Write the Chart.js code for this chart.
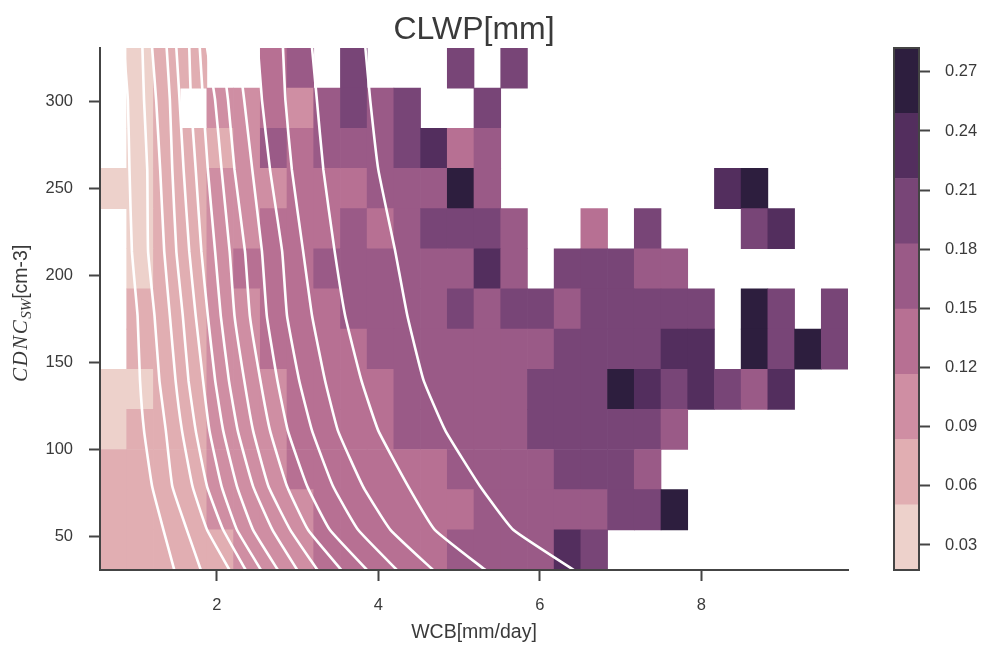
<!DOCTYPE html>
<html>
<head>
<meta charset="utf-8">
<title>CLWP[mm]</title>
<script src="https://cdn.jsdelivr.net/npm/chart.js@4"></script>
<style>
    body { margin: 0; background: #fff; }
    canvas { position: absolute; top: 0; }
    #myChart { left: 0; }
    #colorBar { left: 870px; }
</style>
</head>
<body>
<canvas id="myChart" width="984" height="645"></canvas>
<canvas id="colorBar" width="114" height="645"></canvas>
<script>
const _ = null;

// column centres of the WCB bins
const colCenters = [0.7204, 1.0511, 1.3818, 1.7125, 2.0432, 2.3739, 2.7046, 3.0353, 3.366, 3.6967, 4.0274, 4.3581, 4.6888, 5.0195,
    5.3502, 5.6809, 6.0116, 6.3423, 6.673, 7.0037, 7.3344, 7.6651, 7.9958, 8.3265, 8.6572, 8.9879, 9.3186, 9.6493];
// CDNC bin edges, bottom to top
const rowEdges = [30.9, 53.98, 77.06, 100.13, 123.21, 146.29, 169.37, 192.45, 215.52, 238.6, 261.68, 284.76, 307.83, 330.9];

// CLWP per bin, one list per CDNC row, bottom to top
const row0 = [.07, .07, .07, .07, .07, .10, .10, .10, .13, .13, .13, .13, .13, .17, .17, .17, .17, .23, .20, _, _, _, _, _, _, _, _, _];
const row1 = [.07, .07, .07, .07, .10, .10, .10, .10, .13, .13, .13, .13, .13, .13, .17, .17, .17, .17, .17, .20, .20, .27, _, _, _, _, _, _];
const row2 = [.07, .07, .07, .07, .10, .10, .10, .13, .13, .13, .13, .13, .13, .17, .17, .17, .17, .20, .20, .20, .17, _, _, _, _, _, _, _];
const row3 = [.03, .07, .07, .07, .10, .10, .10, .13, .13, .13, .13, .17, .17, .17, .17, .17, .20, .20, .20, .20, .20, .17, _, _, _, _, _, _];
const row4 = [.03, .03, .07, .07, .10, .10, .10, .13, .13, .13, .13, .17, .17, .17, .17, .17, .20, .20, .20, .27, .23, .20, .23, .20, .17, .23, _, _];
const row5 = [_, .07, .07, .07, .10, .10, .13, .13, .13, .13, .17, .17, .17, .17, .17, .17, .17, .20, .20, .20, .20, .23, .23, _, .27, .20, .27, .20];
const row6 = [_, .07, .07, .07, .10, .10, .13, .13, .13, .17, .17, .17, .17, .20, .17, .20, .20, .17, .20, .20, .20, .20, .20, _, .27, .20, _, .20];
const row7 = [_, .03, .07, .07, .10, .13, .13, .13, .17, .17, .17, .17, .17, .17, .23, .17, _, .20, .20, .20, .17, .17, _, _, _, _, _, _];
const row8 = [_, .03, .07, .07, .10, .10, .13, .13, .13, .17, .13, .17, .20, .20, .20, .17, _, _, .13, _, .20, _, _, _, .20, .23, _, _];
const row9 = [.03, .03, .07, .07, .10, .10, .10, .13, .13, .13, .17, .17, .17, .27, .17, _, _, _, _, _, _, _, _, .23, .27, _, _, _];
const row10 = [_, .03, .07, .07, .07, .10, .17, .13, .17, .17, .17, .20, .23, .13, .17, _, _, _, _, _, _, _, _, _, _, _, _, _];
const row11 = [_, .03, .07, _, .10, .10, .13, .10, .17, .20, .17, .20, _, _, .20, _, _, _, _, _, _, _, _, _, _, _, _, _];
const row12 = [_, .03, .07, .07, _, _, .13, .17, _, .20, _, _, _, .20, _, .20, _, _, _, _, _, _, _, _, _, _, _, _];
const rows = [row0, row1, row2, row3, row4, row5, row6, row7, row8, row9, row10, row11, row12];

// white contours: one x list per line, all read at the same CDNC values
const contourY = [331, 301, 261, 214, 177, 140, 111, 79, 54, 30];
const contour1 = [0.85, 0.90, 0.92, 0.95, 1.02, 1.05, 1.10, 1.20, 1.34, 1.48];
const contour2 = [1.08, 1.10, 1.14, 1.15, 1.23, 1.29, 1.37, 1.45, 1.63, 1.81];
const contour3 = [1.20, 1.25, 1.30, 1.35, 1.42, 1.49, 1.57, 1.70, 1.88, 2.17];
const contour4 = [1.38, 1.42, 1.45, 1.50, 1.58, 1.65, 1.74, 1.88, 2.08, 2.37];
const contour5 = [1.50, 1.54, 1.59, 1.66, 1.74, 1.83, 1.91, 2.06, 2.25, 2.56];
const contour6 = [1.66, 1.68, 1.74, 1.81, 1.89, 1.98, 2.08, 2.25, 2.45, 2.77];
const contour7 = [1.79, 1.83, 1.89, 1.98, 2.05, 2.15, 2.26, 2.45, 2.69, 3.01];
const contour8 = [1.88, 1.98, 2.06, 2.16, 2.22, 2.34, 2.45, 2.64, 2.91, 3.26];
const contour9 = [2.06, 2.14, 2.22, 2.35, 2.41, 2.54, 2.66, 2.87, 3.13, 3.56];
const contour10 = [2.26, 2.34, 2.44, 2.56, 2.62, 2.75, 2.88, 3.12, 3.40, 3.88];
const contour11 = [2.51, 2.56, 2.66, 2.81, 2.87, 3.02, 3.18, 3.44, 3.75, 4.25];
const contour12 = [2.82, 2.85, 2.93, 3.07, 3.18, 3.34, 3.50, 3.81, 4.15, 4.70];
const contour13 = [3.18, 3.24, 3.32, 3.46, 3.59, 3.79, 4.00, 4.37, 4.70, 5.35];
const contour14 = [3.84, 3.90, 4.00, 4.21, 4.36, 4.56, 4.83, 5.26, 5.67, 6.45];
const contours = [contour1, contour2, contour3, contour4, contour5, contour6, contour7,
    contour8, contour9, contour10, contour11, contour12, contour13, contour14];

const xTicks = [2, 4, 6, 8];
const yTicks = [50, 100, 150, 200, 250, 300];
const colorTicks = [0.03, 0.06, 0.09, 0.12, 0.15, 0.18, 0.21, 0.24, 0.27];
const levelEdges = [0.0173, 0.0504, 0.0835, 0.1166, 0.1497, 0.1828, 0.2159, 0.249, 0.2821];
const levelColors = ["#edd1cb", "#e1aeb2", "#cf8ea3", "#b77093", "#9a5a87", "#784577", "#532e5e", "#2d1e3e"];

const FONT = "'Liberation Sans', Arial, sans-serif";
const TEXT = "#3a3a3a";
const SPINE = "#444444";

function colorFor(value) {
    let i = levelEdges.findIndex((edge) => value < edge) - 1;
    return levelColors[i];
}

let datasets = [];

rows.forEach((row, r) => {
    let cells = [];
    row.forEach((value, c) => {
        if (value !== null) cells.push({ x : colCenters[c], y : [rowEdges[r], rowEdges[r + 1]], clwp : value });
    });
    datasets.push({
        type : "bar",
        data : cells,
        order : 2,
        grouped : false,
        barPercentage : 1,
        categoryPercentage : 1,
        backgroundColor : cells.map((cell) => colorFor(cell.clwp))
    });
});

contours.forEach((xs) => {
    datasets.push({
        type : "line",
        data : xs.map((x, i) => ({ x : x, y : contourY[i] })),
        order : 1,
        borderColor : "#ffffff",
        borderWidth : 2.6,
        pointRadius : 0,
        tension : 0.12,
        fill : false
    });
});

// mixed italic + subscript + plain label, chart.js axis titles only take one font
const yLabelParts = [
    { text : "CDNC", font : "italic 21px 'Liberation Serif', serif", drop : 0, spacing : "1.5px" },
    { text : "SW", font : "italic 15px 'Liberation Serif', serif", drop : 4, spacing : "0px" },
    { text : "[cm-3]", font : "19.5px " + FONT, drop : 0, spacing : "0px" }
];

const yLabelPlugin = {
    id : "yLabel",
    afterDraw(chart) {
        const ctx = chart.ctx;
        ctx.save();
        ctx.translate(27, 382);
        ctx.rotate(-Math.PI / 2);
        ctx.fillStyle = TEXT;
        ctx.textBaseline = "alphabetic";
        let pos = 0;
        yLabelParts.forEach((part) => {
            ctx.font = part.font;
            ctx.letterSpacing = part.spacing;
            ctx.fillText(part.text, pos, part.drop);
            pos += ctx.measureText(part.text).width;
        });
        ctx.restore();
    }
};

function axisStyle() {
    return {
        grid : { display : true, offset : false, drawOnChartArea : false, drawTicks : true, tickLength : 11, tickWidth : 2, tickColor : SPINE },
        border : { display : true, color : SPINE, width : 2, z : 1 }
    };
}

new Chart(document.getElementById("myChart"), {
    data : { datasets : datasets },
    plugins : [yLabelPlugin],
    options : {
        responsive : false,
        animation : false,
        layout : { padding : { left : 0, right : 136, top : 0, bottom : 0 } },
        plugins : {
            legend : { display : false },
            tooltip : { enabled : false },
            title : {
                display : true,
                fullSize : false,
                text : "CLWP[mm]",
                color : TEXT,
                font : { family : FONT, size : 32, weight : "normal", lineHeight : 36 / 32 },
                padding : { top : 12, bottom : 0 }
            }
        },
        scales : {
            x : {
                type : "linear",
                offset : false,
                min : 0.555,
                max : 9.8146,
                ...axisStyle(),
                afterBuildTicks : (axis) => { axis.ticks = xTicks.map((v) => ({ value : v })); },
                afterFit : (axis) => { axis.height = 75; },
                ticks : { color : TEXT, font : { family : FONT, size : 16.5 }, padding : 15, maxRotation : 0, callback : (v) => String(v) },
                title : { display : true, text : "WCB[mm/day]", color : TEXT, font : { family : FONT, size : 19.5 }, padding : { top : 0, bottom : 1 } }
            },
            y : {
                type : "linear",
                min : 30.9,
                max : 330.9,
                ...axisStyle(),
                afterBuildTicks : (axis) => { axis.ticks = yTicks.map((v) => ({ value : v })); },
                afterFit : (axis) => { axis.width = 100; },
                ticks : { color : TEXT, font : { family : FONT, size : 16.5 }, padding : 16, callback : (v) => String(v) }
            }
        }
    }
});

// colour bar, its own small chart
const frame = {
    id : "frame",
    afterDraw(chart) {
        const a = chart.chartArea;
        chart.ctx.save();
        chart.ctx.strokeStyle = SPINE;
        chart.ctx.lineWidth = 2;
        chart.ctx.strokeRect(a.left, a.top, a.right - a.left, a.bottom - a.top);
        chart.ctx.restore();
    }
};

new Chart(document.getElementById("colorBar"), {
    type : "bar",
    data : {
        labels : ["CLWP"],
        datasets : levelColors.map((color, i) => ({
            data : [[levelEdges[i], levelEdges[i + 1]]],
            backgroundColor : color,
            grouped : false,
            barPercentage : 1,
            categoryPercentage : 1
        }))
    },
    plugins : [frame],
    options : {
        responsive : false,
        animation : false,
        layout : { padding : { left : 24, right : 0, top : 48, bottom : 75 } },
        plugins : { legend : { display : false }, tooltip : { enabled : false } },
        scales : {
            x : { display : false },
            y : {
                position : "right",
                min : levelEdges[0],
                max : levelEdges[levelEdges.length - 1],
                grid : { display : true, drawOnChartArea : false, drawTicks : true, tickLength : 11, tickWidth : 2, tickColor : SPINE },
                border : { display : false },
                afterBuildTicks : (axis) => { axis.ticks = colorTicks.map((v) => ({ value : v })); },
                afterFit : (axis) => { axis.width = 65; },
                ticks : { color : TEXT, font : { family : FONT, size : 16.5 }, padding : 15, callback : (v) => v.toFixed(2) }
            }
        }
    }
});
</script>
</body>
</html>
